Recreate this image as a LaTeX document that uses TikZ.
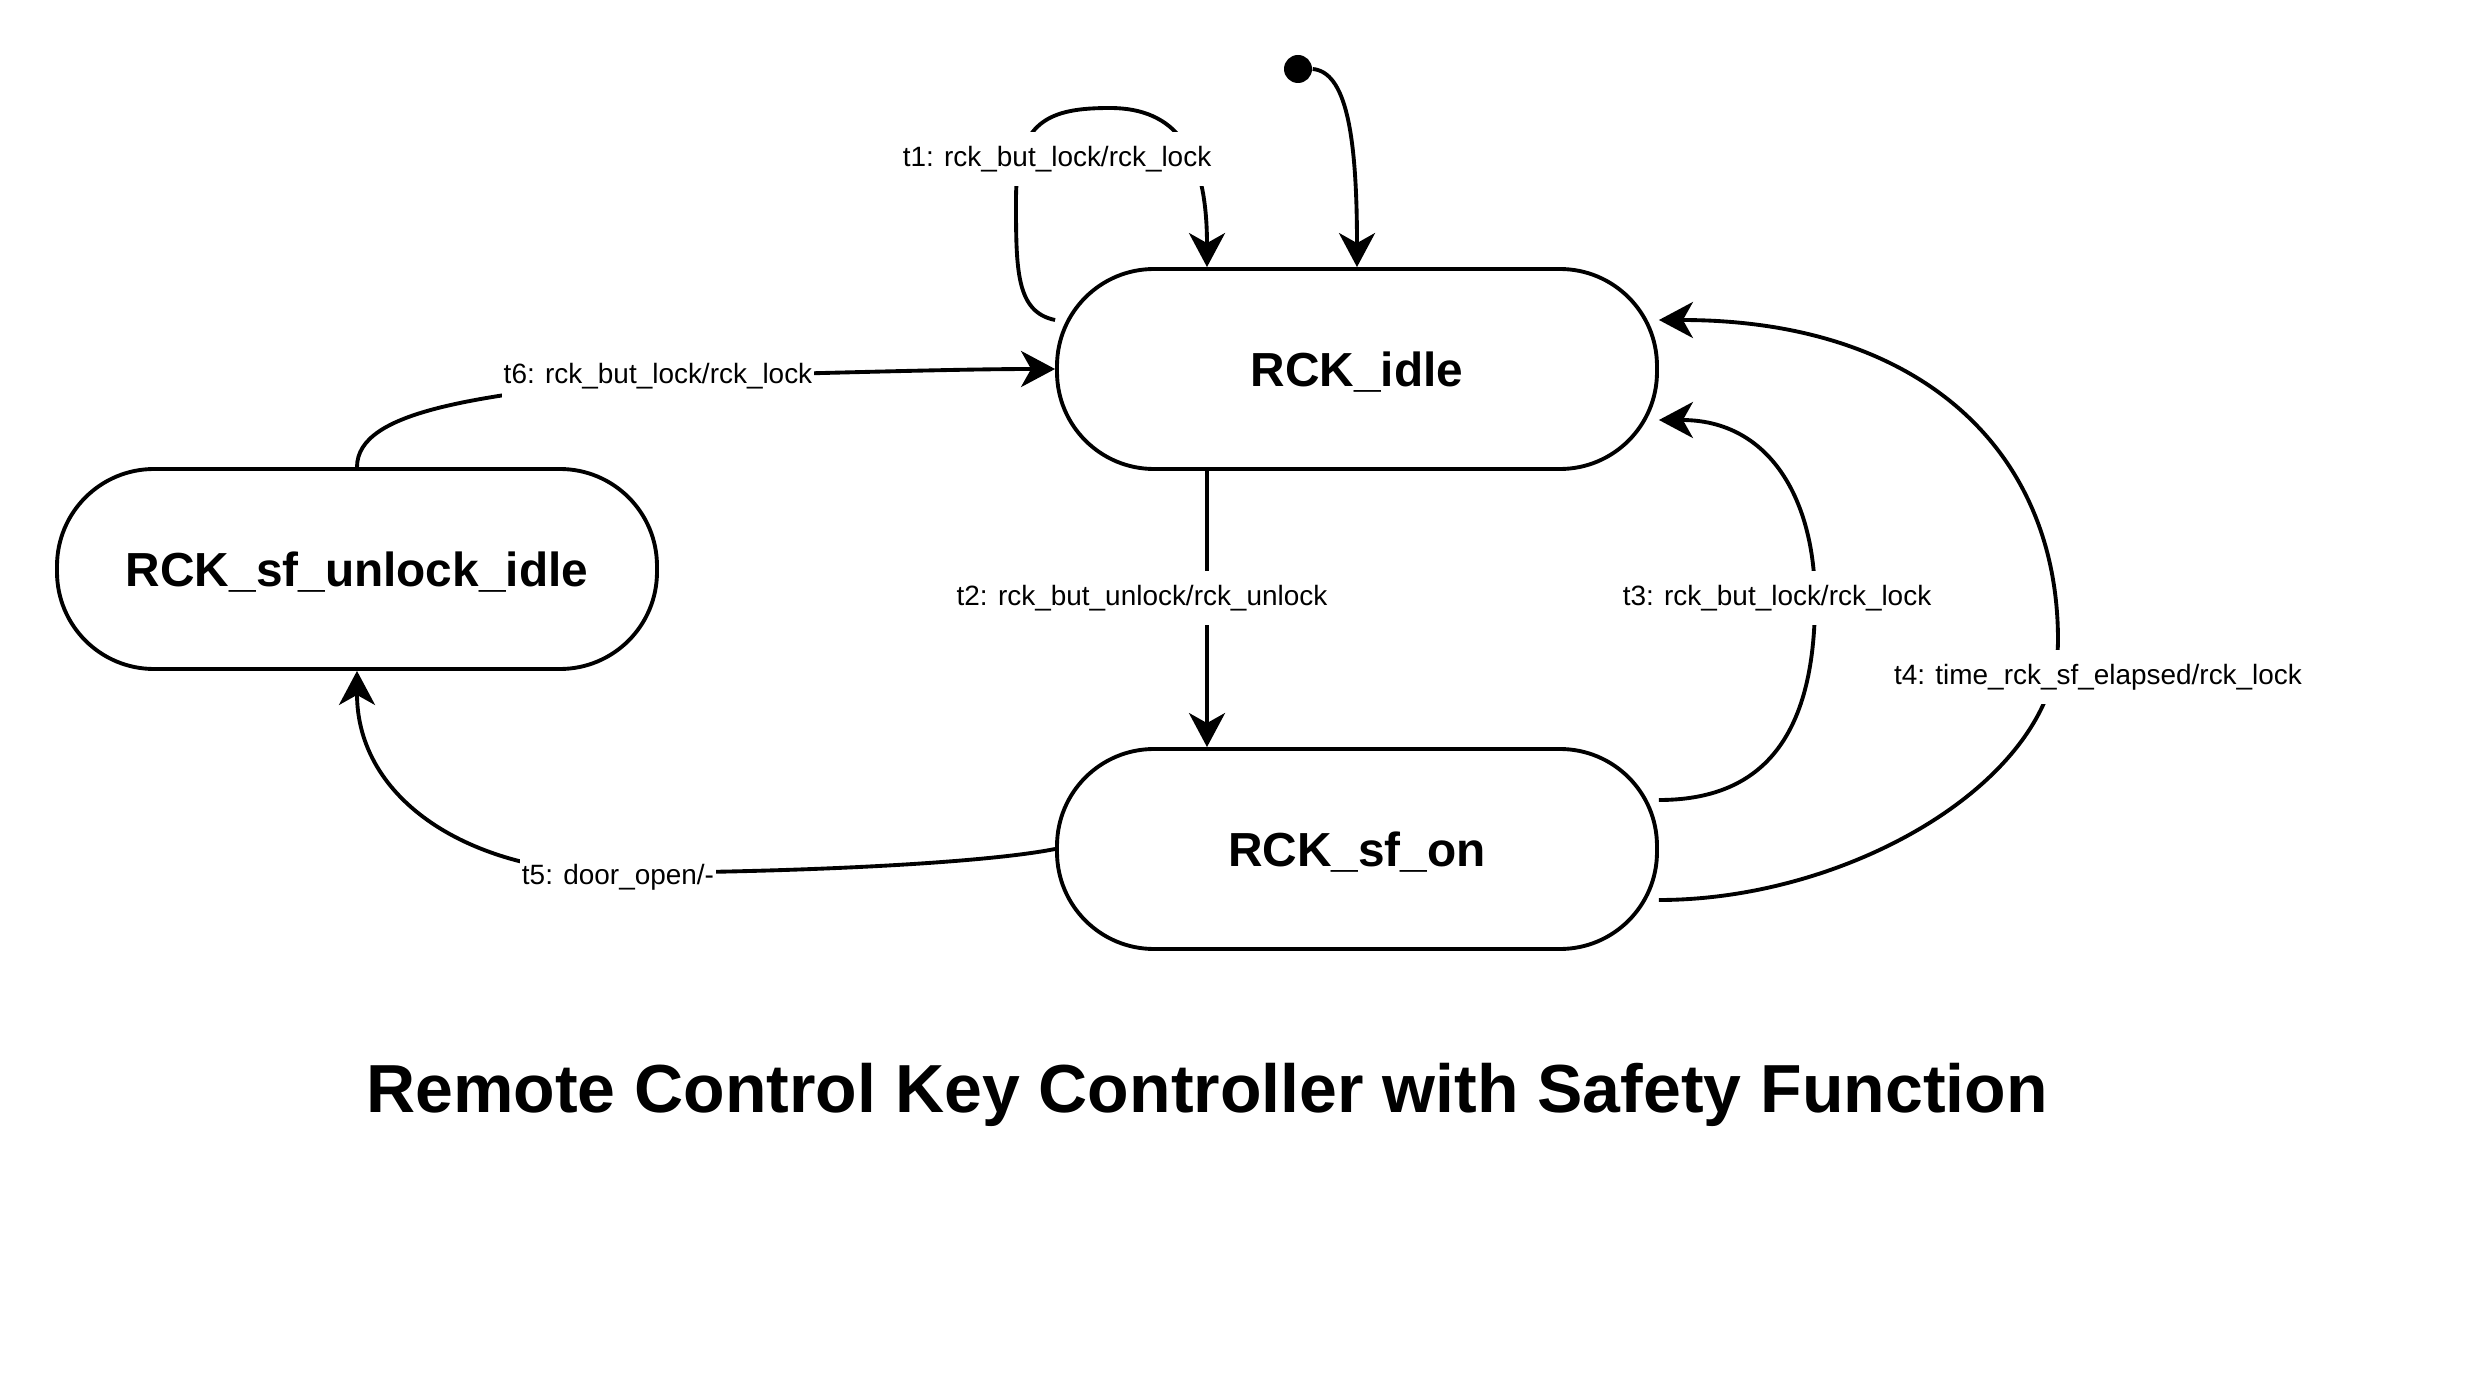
\documentclass[tikz,border=0pt]{standalone}
\usepackage{fontspec}
\setmainfont{Liberation Sans}
\usetikzlibrary{arrows.meta}

\begin{document}
\begin{tikzpicture}[
  state/.style={draw, line width=1.1pt, rounded corners=0.97cm, minimum width=6cm, minimum height=2cm, inner sep=0pt, text depth=0pt, font=\bfseries\fontsize{13.6}{16}\selectfont},
  initdot/.style={circle, fill=black, minimum size=0.28cm, inner sep=0pt},
  trans/.style={line width=1.1pt, -{Stealth[length=0.34cm, width=0.36cm, inset=0.1cm]}},
  elabel/.style={fill=white, inner xsep=0.5pt, inner ysep=4pt, font=\fontsize{7.95}{9.5}\selectfont}
]
\useasboundingbox (0,0) rectangle (24.84,-13.80);

\node[state] (idle) at (13.57,-3.69) {RCK\_idle};
\node[state] (unlock) at (3.57,-5.69) {RCK\_sf\_unlock\_idle};
\node[state] (sfon) at (13.57,-8.49) {RCK\_sf\_on};
\node[initdot] (init) at (12.98,-0.69) {};

\draw[trans] (init.east) .. controls (13.45,-0.72) and (13.57,-1.30) .. (idle.north);

\draw[trans] ([yshift=4.9mm]idle.west) .. controls (10.16,-3.12) and (10.16,-2.70) .. (10.16,-2.00)
  .. controls (10.16,-1.20) and (10.50,-1.08) .. (11.10,-1.08)
  .. controls (11.75,-1.08) and (12.07,-1.50) .. ([xshift=-15mm]idle.north);
\node[elabel] (lt1) at (10.57,-1.59) {t1: rck\_but\_lock/rck\_lock};

\draw[trans] ([xshift=-15mm]idle.south) -- ([xshift=-15mm]sfon.north);
\node[elabel] (lt2) at (11.42,-5.98) {t2: rck\_but\_unlock/rck\_unlock};

\draw[trans] ([yshift=4.9mm]sfon.east) .. controls (17.60,-8.00) and (18.15,-7.40) .. (18.15,-6.00)
  .. controls (18.15,-5.00) and (17.70,-4.20) .. ([yshift=-5.1mm]idle.east);
\node[elabel] (lt3) at (17.77,-5.98) {t3: rck\_but\_lock/rck\_lock};

\draw[trans] ([yshift=-5.1mm]sfon.east) .. controls (18.50,-9.00) and (20.58,-7.80) .. (20.58,-6.40)
  .. controls (20.58,-4.50) and (19.20,-3.20) .. ([yshift=4.9mm]idle.east);
\node[elabel] (lt4) at (20.98,-6.77) {t4: time\_rck\_sf\_elapsed/rck\_lock};

\draw[trans] (sfon.west) .. controls (9.90,-8.62) and (8.20,-8.72) .. (6.18,-8.73)
  .. controls (4.70,-8.73) and (3.57,-8.00) .. (unlock.south);
\node[elabel] (lt5) at (6.18,-8.77) {t5: door\_open/-};

\draw[trans] (unlock.north) .. controls (3.57,-4.10) and (4.80,-3.95) .. (6.57,-3.77)
  .. controls (8.00,-3.74) and (9.50,-3.69) .. (idle.west);
\node[elabel] (lt6) at (6.58,-3.76) {t6: rck\_but\_lock/rck\_lock};

\node[font=\bfseries\fontsize{19.35}{23}\selectfont, anchor=base] (title) at (12.07,-11.12) {Remote Control Key Controller with Safety Function};
\end{tikzpicture}
\end{document}
